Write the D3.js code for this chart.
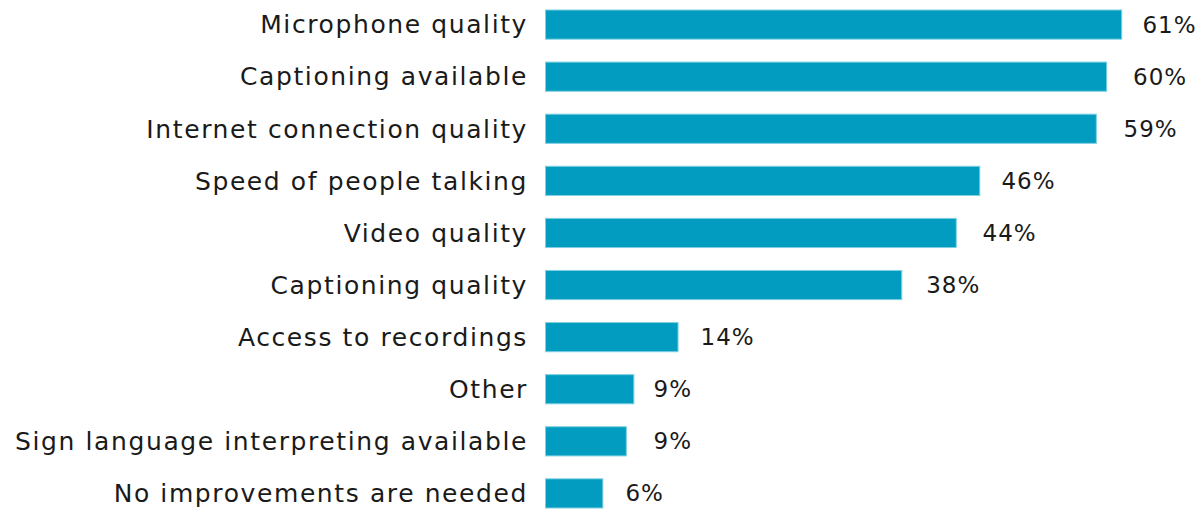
<!DOCTYPE html>
<html>
<head>
<meta charset="utf-8">
<script src="https://cdn.jsdelivr.net/npm/d3@7"></script>
<style>
  body { margin: 0; background: #fff; }
  svg text { font-family: "DejaVu Sans", sans-serif; fill: #1a1a1a; }
</style>
</head>
<body>
<svg width="1201" height="511"></svg>
<script>
// survey answers, top to bottom
const categories = [
  'Microphone quality',
  'Captioning available',
  'Internet connection quality',
  'Speed of people talking',
  'Video quality',
  'Captioning quality',
  'Access to recordings',
  'Other',
  'Sign language interpreting available',
  'No improvements are needed'
];
// percent of respondents
const values = [61.3, 59.7, 58.6, 46.2, 43.7, 37.9, 14.1, 9.4, 8.6, 6.1];

const margin = {top: 10, right: 10, bottom: 3, left: 545};

const svg = d3.select('svg');
const width = +svg.attr('width') - margin.left - margin.right;
const height = +svg.attr('height') - margin.top - margin.bottom;
const chart = svg.append('g')
  .attr('transform', 'translate(' + margin.left + ',' + margin.top + ')');

const data = categories.map((c, i) => ({label: c, value: values[i]}));

const x = d3.scaleLinear().domain([0, 100]).range([0, 940]);
const y = d3.scaleBand().domain(categories).range([0, height]).paddingInner(0.44).paddingOuter(0.0);

chart.append('g')
  .attr('class', 'bars')
  .selectAll('rect')
  .data(data)
  .enter().append('rect')
  .attr('x', 0.5)
  .attr('y', d => y(d.label))
  .attr('width', d => x(d.value))
  .attr('height', y.bandwidth())
  .attr('fill', '#019cbf')
  .attr('stroke', '#7fd0e2')
  .attr('stroke-width', 1);

// category names, right aligned against the bars
chart.append('g')
  .selectAll('text')
  .data(data)
  .enter().append('text')
  .attr('x', -17)
  .attr('y', d => y(d.label) + y.bandwidth() / 2)
  .attr('dy', '0.35em')
  .attr('text-anchor', 'end')
  .style('font-size', '25px')
  .style('letter-spacing', '1.6px')
  .text(d => d.label);

// value labels
chart.append('g')
  .selectAll('text')
  .data(data)
  .enter().append('text')
  .attr('x', d => x(Math.round(d.value)) + 24)
  .attr('y', d => y(d.label) + y.bandwidth() / 2)
  .attr('dy', '0.35em')
  .style('font-size', '23px')
  .style('letter-spacing', '1px')
  .text(d => Math.round(d.value) + '%');
</script>
</body>
</html>
